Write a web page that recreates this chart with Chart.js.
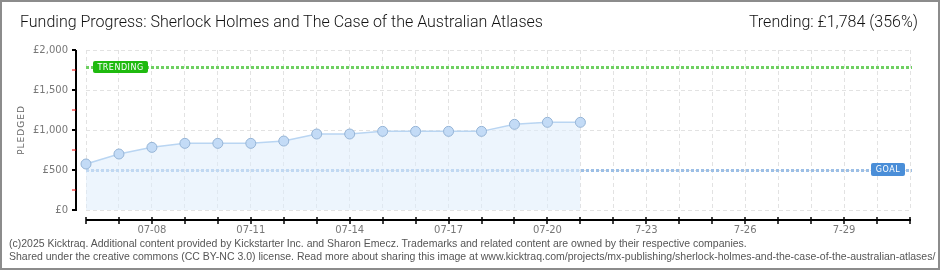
<!DOCTYPE html>
<html>
<head>
<meta charset="utf-8">
<script src="https://cdn.jsdelivr.net/npm/chart.js@4.4.0/dist/chart.umd.min.js"></script>
<style>
  html, body { margin: 0; padding: 0; background: #fff; }
  #wrap { position: relative; width: 940px; height: 270px; overflow: hidden; }
  #frame { position: absolute; left: 0; top: 0; width: 936px; height: 266px; border: 2px solid #8c8c8c; pointer-events: none; }
  #title { position: absolute; left: 20px; top: 12px; font: 300 16px Roboto, sans-serif; color: #111; white-space: nowrap; }
  #trend { position: absolute; right: 22px; top: 12px; font: 300 16px Roboto, sans-serif; color: #111; white-space: nowrap; }
  .foot { position: absolute; left: 9px; font: 10.5px "Liberation Sans", sans-serif; color: #555; white-space: nowrap; }
  canvas { position: absolute; left: 0; top: 0; }
</style>
</head>
<body>
<div id="wrap">
  <canvas id="myChart" width="940" height="270"></canvas>
  <div id="title">Funding Progress: Sherlock Holmes and The Case of the Australian Atlases</div>
  <div id="trend">Trending: £1,784 (356%)</div>
  <div class="foot" style="top:237px">(c)2025 Kicktraq. Additional content provided by Kickstarter Inc. and Sharon Emecz. Trademarks and related content are owned by their respective companies.</div>
  <div class="foot" style="top:250px">Shared under the creative commons (CC BY-NC 3.0) license. Read more about sharing this image at www.kicktraq.com/projects/mx-publishing/sherlock-holmes-and-the-case-of-the-australian-atlases/</div>
  <div id="frame"></div>
</div>
<script>
// days on the x axis (07-06 .. 07-31), projected days use the short format
var days = ["07-06","07-07","07-08","07-09","07-10","07-11","07-12","07-13","07-14","07-15",
            "07-16","07-17","07-18","07-19","07-20","07-21","7-22","7-23","7-24","7-25",
            "7-26","7-27","7-28","7-29","7-30","7-31"];
var pledged = [575, 700, 783, 833, 833, 833, 862, 950, 950, 983, 983, 983, 983, 1071, 1096, 1096];
var yTicks = [0, 500, 1000, 1500, 2000];
var goal = 500;
var trending = 1784;

function pill(ctx, x, y, w, h, bg, text) {
  ctx.fillStyle = bg;
  ctx.beginPath();
  ctx.roundRect(x, y, w, h, 2);
  ctx.fill();
  ctx.fillStyle = "#fff";
  ctx.font = "8px 'DejaVu Sans', sans-serif";
  ctx.textAlign = "center";
  ctx.textBaseline = "middle";
  if (ctx.letterSpacing !== undefined) ctx.letterSpacing = "0.5px";
  ctx.fillText(text, x + w / 2, y + h / 2 + 0.5);
}

var extras = {
  id: "extras",
  beforeDatasetsDraw: function (chart) {
    var ctx = chart.ctx, a = chart.chartArea;
    var y = chart.scales.y;
    ctx.save();
    // trending + goal dotted lines
    [[trending, "#6fd062"], [goal, "#9cbfe6"]].forEach(function (l) {
      var py = Math.round(y.getPixelForValue(l[0])) + 0.5;
      ctx.strokeStyle = l[1];
      ctx.lineWidth = 3;
      ctx.setLineDash([3, 2]);
      ctx.beginPath();
      ctx.moveTo(a.left, py);
      ctx.lineTo(a.right + 2, py);
      ctx.stroke();
    });
    ctx.restore();
  },
  afterDraw: function (chart) {
    var ctx = chart.ctx, a = chart.chartArea;
    var y = chart.scales.y, x = chart.scales.x;
    ctx.save();
    ctx.strokeStyle = "#000";
    ctx.lineWidth = 2;
    // y axis line
    ctx.beginPath();
    ctx.moveTo(76, a.top);
    ctx.lineTo(76, a.bottom + 1);
    ctx.stroke();
    y.ticks.forEach(function (t) {
      var py = Math.round(y.getPixelForValue(t.value));
      var major = t.value % 500 === 0;
      ctx.strokeStyle = major ? "#000" : "#e00";
      ctx.lineWidth = major ? 2 : 1;
      ctx.beginPath();
      ctx.moveTo(72, py);
      ctx.lineTo(76, py);
      ctx.stroke();
    });
    // x axis line
    ctx.strokeStyle = "#000";
    ctx.lineWidth = 2;
    ctx.beginPath();
    ctx.moveTo(a.left, 220);
    ctx.lineTo(a.right + 1, 220);
    ctx.stroke();
    ctx.lineWidth = 1.5;
    for (var i = 0; i < days.length; i++) {
      var px = Math.round(x.getPixelForValue(i));
      ctx.beginPath();
      ctx.moveTo(px, 217);
      ctx.lineTo(px, 224);
      ctx.stroke();
    }
    // axis title
    ctx.fillStyle = "#666";
    ctx.font = "9px 'DejaVu Sans', sans-serif";
    ctx.textAlign = "center";
    ctx.textBaseline = "middle";
    ctx.translate(22, 130);
    ctx.rotate(-Math.PI / 2);
    if (ctx.letterSpacing !== undefined) ctx.letterSpacing = "1px";
    ctx.fillText("PLEDGED", 0, 0);
    ctx.restore();

    ctx.save();
    var ty = Math.round(y.getPixelForValue(trending));
    pill(ctx, 93, ty - 6, 55, 12, "#1fba0f", "TRENDING");
    var gy = Math.round(y.getPixelForValue(goal));
    pill(ctx, 871, gy - 7, 34, 13, "#4a8ed8", "GOAL");
    ctx.restore();
  }
};

new Chart(document.getElementById("myChart"), {
  type: "line",
  data: {
    labels: days,
    datasets: [{
      data: pledged,
      borderColor: "#b9d5f2",
      borderWidth: 1.5,
      backgroundColor: "rgba(222,236,251,0.55)",
      fill: "origin",
      tension: 0,
      pointRadius: 5,
      pointBackgroundColor: "#c3dbf6",
      pointBorderColor: "#95b4d6",
      pointBorderWidth: 1
    }]
  },
  options: {
    responsive: false,
    animation: false,
    layout: { padding: { top: 50, right: 30, bottom: 32, left: 0 } },
    plugins: { legend: { display: false }, tooltip: { enabled: false } },
    scales: {
      x: {
        offset: false,
        afterFit: function (s) { s.height = 28; },
        grid: { color: "#e2e2e2", drawTicks: false },
        border: { display: false, dash: [4, 3] },
        ticks: {
          autoSkip: false, maxRotation: 0, padding: 14,
          color: "#777", font: { size: 10, family: "'DejaVu Sans', sans-serif" },
          callback: function (v, i) { return (i - 2) % 3 === 0 ? days[i] : ""; }
        }
      },
      y: {
        min: 0, max: 2000,
        afterFit: function (s) { s.width = 86; },
        grid: {
          drawTicks: false,
          color: function (c) { return c.tick && c.tick.value % 500 === 0 ? "#e2e2e2" : "rgba(0,0,0,0)"; }
        },
        border: { display: false, dash: [4, 3] },
        ticks: {
          stepSize: 250, padding: 18,
          color: "#777", font: { size: 10, family: "'DejaVu Sans', sans-serif" },
          callback: function (v) { return yTicks.indexOf(v) >= 0 ? "£" + v.toLocaleString("en-GB") : ""; }
        }
      }
    }
  },
  plugins: [extras]
});
</script>
</body>
</html>
